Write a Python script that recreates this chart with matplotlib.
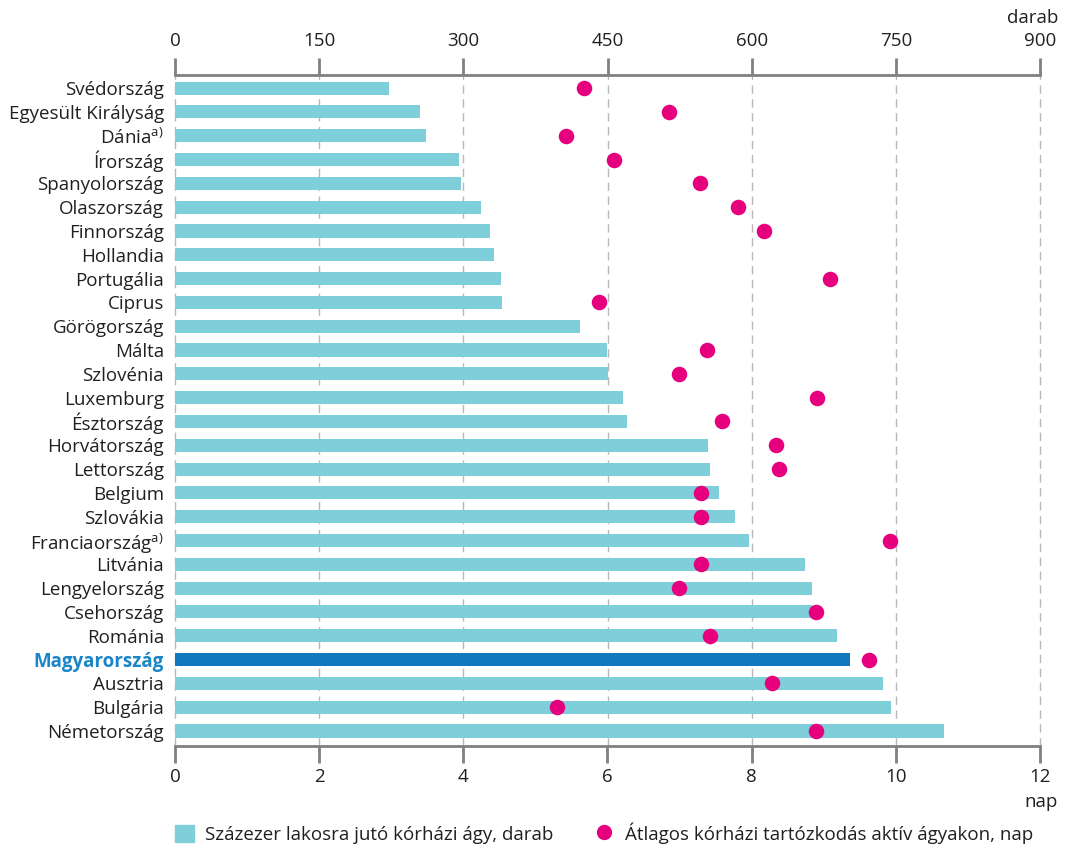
import matplotlib
matplotlib.use("Agg")
import matplotlib.pyplot as plt
from matplotlib.lines import Line2D
from matplotlib.patches import Patch

plt.rcParams["font.family"] = ["Open Sans", "DejaVu Sans"]
plt.rcParams["mathtext.fontset"] = "custom"
plt.rcParams["mathtext.rm"] = "Open Sans"

countries = [
    "Svédország", "Egyesült Királyság", r"Dánia$^{\mathrm{a)}}$", "Írország",
    "Spanyolország", "Olaszország", "Finnország", "Hollandia", "Portugália",
    "Ciprus", "Görögország", "Málta", "Szlovénia", "Luxemburg", "Észtország",
    "Horvátország", "Lettország", "Belgium", "Szlovákia",
    r"Franciaország$^{\mathrm{a)}}$", "Litvánia", "Lengyelország", "Csehország",
    "Románia", "Magyarország", "Ausztria", "Bulgária", "Németország",
]
beds = [223, 255, 261, 296, 298, 318, 328, 332, 339, 340, 421, 449, 451, 466,
        470, 555, 557, 566, 583, 597, 656, 663, 663, 689, 702, 737, 745, 800]
stay = [5.67, 6.85, 5.42, 6.09, 7.28, 7.81, 8.17, None, 9.09, 5.88, None, 7.38,
        6.99, 8.91, 7.59, 8.34, 8.38, 7.30, 7.30, 9.92, 7.30, 6.99, 8.89, 7.42,
        9.63, 8.28, 5.30, 8.89]
highlight = "Magyarország"

bar_color = "#7ecfd9"
hu_color = "#1177bf"
dot_color = "#e6007e"
axis_gray = "#808080"
text_color = "#231f20"
fs = 13.5

fig = plt.figure(figsize=(10.65, 8.47), dpi=100)
ax = fig.add_axes([175 / 1065, 1 - 746 / 847, 865 / 1065, 671 / 847])
ax2 = ax.twiny()

ypos = list(range(len(countries)))
colors = [hu_color if c == highlight else bar_color for c in countries]
ax.barh(ypos, beds, height=0.55, color=colors, zorder=2)
ax.set_xlim(0, 900)
ax.set_ylim(27.63, -0.55)
ax.set_xticks(range(0, 901, 150))
ax.xaxis.tick_top()
ax.xaxis.set_label_position("top")
ax.set_yticks(ypos)
ax.set_yticklabels(countries)
ax.grid(axis="x", color="#b8b8b8", linestyle=(0, (6, 4)), linewidth=1, zorder=0)
for gl in ax.xaxis.get_gridlines():
    gl.set_clip_on(False)
ax.tick_params(axis="y", length=0, pad=8, labelsize=fs, labelcolor=text_color)
ax.tick_params(axis="x", length=12, width=2, color=axis_gray, pad=6,
               labelsize=fs, labelcolor=text_color)
for lbl in ax.get_yticklabels():
    if lbl.get_text() == highlight:
        lbl.set_color("#1a85c8")
        lbl.set_fontweight("bold")

xs = [s for s in stay if s is not None]
ys = [y for y, s in zip(ypos, stay) if s is not None]
ax2.scatter(xs, ys, s=125, color=dot_color, zorder=3, linewidths=0)
ax2.set_xlim(0, 12)
ax2.set_xticks(range(0, 13, 2))
ax2.xaxis.tick_bottom()
ax2.xaxis.set_label_position("bottom")
ax2.tick_params(axis="x", length=12, width=2, color=axis_gray, pad=4,
                labelsize=fs, labelcolor=text_color)

for a in (ax, ax2):
    for side in ("left", "right"):
        a.spines[side].set_visible(False)
    a.spines["top"].set_color(axis_gray)
    a.spines["top"].set_linewidth(2)
    a.spines["bottom"].set_color(axis_gray)
    a.spines["bottom"].set_linewidth(2)
ax.spines["bottom"].set_visible(False)
ax2.spines["top"].set_visible(False)

fig.text(1058 / 1065, 1 - 18 / 847, "darab", ha="right", va="center",
         fontsize=fs, color=text_color)
fig.text(1058 / 1065, 1 - 802 / 847, "nap", ha="right", va="center",
         fontsize=fs, color=text_color)

handles = [
    Patch(color=bar_color, label="Százezer lakosra jutó kórházi ágy, darab"),
    Line2D([], [], marker="o", linestyle="none", markersize=11,
           markerfacecolor=dot_color, markeredgewidth=0,
           label="Átlagos kórházi tartózkodás aktív ágyakon, nap"),
]
fig.legend(handles=handles, loc="center left", bbox_to_anchor=(166 / 1065, 1 - 833 / 847),
           ncol=2, frameon=False, fontsize=fs, handlelength=1.0, handleheight=1.0,
           handletextpad=0.6, columnspacing=2.2, labelcolor=text_color,
           borderpad=0)

fig.savefig("out.png", dpi=100)
plt.close()
